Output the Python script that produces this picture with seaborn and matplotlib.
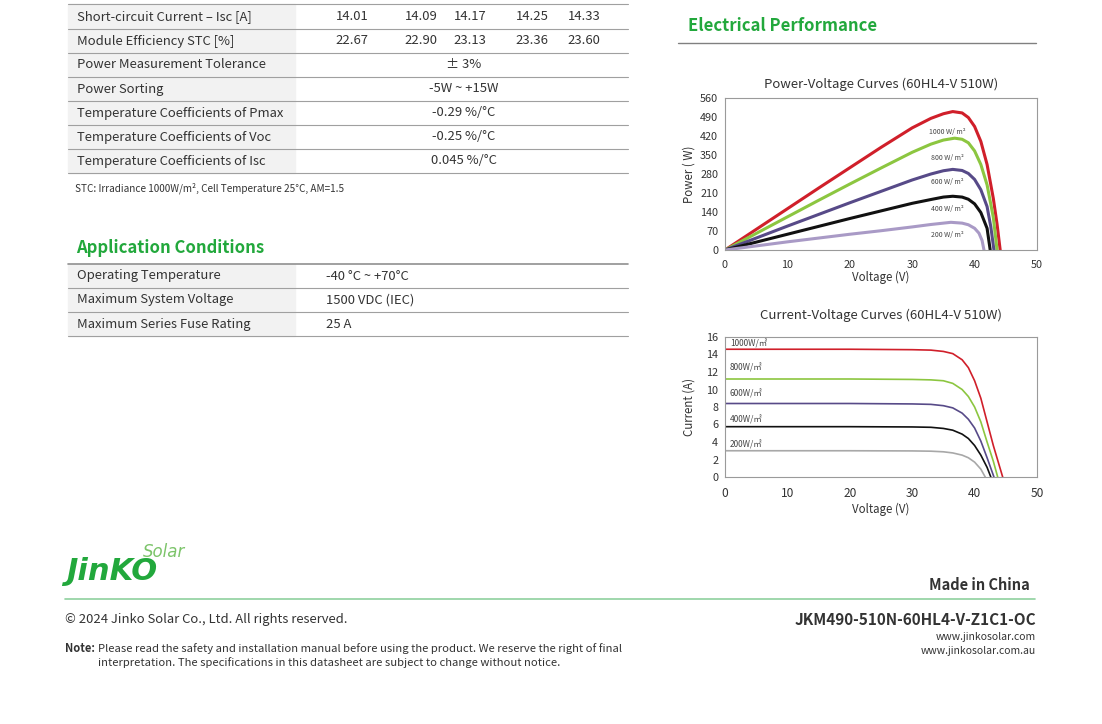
import numpy as np
import pandas as pd
import matplotlib.pyplot as plt
import seaborn as sns
from matplotlib.lines import Line2D
from matplotlib.patches import Rectangle

sns.set_style("white")
plt.rcParams['font.family'] = ['Noto Sans CJK SC', 'DejaVu Sans']

W, H = 1102, 724
GREEN = "#22a83c"
TXT = "#333333"

# ---- table data ----
elec_params = ["Short-circuit Current – Isc [A]", "Module Efficiency STC [%]"]
elec_values = [["14.01", "14.09", "14.17", "14.25", "14.33"],
               ["22.67", "22.90", "23.13", "23.36", "23.60"]]
merged_params = ["Power Measurement Tolerance", "Power Sorting",
                 "Temperature Coefficients of Pmax", "Temperature Coefficients of Voc",
                 "Temperature Coefficients of Isc"]
merged_values = ["± 3%", "-5W ~ +15W", "-0.29 %/°C", "-0.25 %/°C", "0.045 %/°C"]
app_params = ["Operating Temperature", "Maximum System Voltage", "Maximum Series Fuse Rating"]
app_values = ["-40 °C ~ +70°C", "1500 VDC (IEC)", "25 A"]

# ---- curve data ----
irr = ["1000", "800", "600", "400", "200"]
pv_v = {
    "1000": [0, 5, 10, 15, 20, 25, 30, 33, 35, 36.5, 38, 39, 40, 41, 42, 43, 43.6, 44.1],
    "800": [0, 5, 10, 15, 20, 25, 30, 33, 35, 36.8, 38, 39, 40, 41, 42, 43, 43.6],
    "600": [0, 5, 10, 15, 20, 25, 30, 33, 35, 36.5, 38, 39, 40, 41, 42, 42.6, 43.1],
    "400": [0, 5, 10, 15, 20, 25, 30, 33, 35, 36.5, 38, 39, 40, 41, 42, 42.5],
    "200": [0, 5, 10, 15, 20, 25, 30, 33, 35, 36.2, 38, 39, 40, 40.7, 41.2, 41.5],
}
pv_p = {
    "1000": [0, 76, 152, 228, 303, 378, 450, 485, 502, 510, 505, 488, 455, 400, 315, 190, 95, 0],
    "800": [0, 61, 122, 183, 243, 302, 360, 390, 405, 412, 408, 395, 365, 315, 240, 120, 0],
    "600": [0, 44, 88, 131, 174, 216, 258, 280, 292, 297, 293, 282, 260, 222, 160, 85, 0],
    "400": [0, 29, 58, 87, 116, 144, 172, 186, 195, 198, 195, 187, 170, 138, 80, 0],
    "200": [0, 15, 30, 44, 58, 71, 85, 94, 99, 102, 99, 93, 80, 62, 35, 0],
}
iv_v = {
    "1000": [0, 10, 20, 30, 33, 35, 36.5, 38, 39, 40, 41, 42, 43, 44, 44.5],
    "800": [0, 10, 20, 30, 33, 35, 36.5, 38, 39, 40, 41, 42, 43, 43.7],
    "600": [0, 10, 20, 30, 33, 35, 36.5, 38, 39, 40, 41, 42, 43.1],
    "400": [0, 10, 20, 30, 33, 35, 36.5, 38, 39, 40, 41, 42, 42.6],
    "200": [0, 10, 20, 30, 33, 35, 36.5, 38, 39, 40, 41, 41.7],
}
iv_i = {
    "1000": [14.6, 14.6, 14.6, 14.55, 14.5, 14.35, 14.1, 13.4, 12.5, 11.0, 9.0, 6.3, 3.6, 1.2, 0],
    "800": [11.2, 11.2, 11.2, 11.15, 11.1, 11.0, 10.7, 10.0, 9.2, 8.0, 6.3, 4.0, 1.8, 0],
    "600": [8.4, 8.4, 8.4, 8.35, 8.3, 8.15, 7.9, 7.3, 6.6, 5.6, 4.1, 2.2, 0],
    "400": [5.75, 5.75, 5.75, 5.72, 5.68, 5.55, 5.35, 4.9, 4.4, 3.6, 2.5, 1.1, 0],
    "200": [3.0, 3.0, 3.0, 2.98, 2.95, 2.88, 2.75, 2.5, 2.2, 1.7, 0.9, 0],
}
pv_colors = {"1000": "#d01f2a", "800": "#8cc640", "600": "#574a88", "400": "#111111", "200": "#a99ac6"}
iv_colors = {"1000": "#d01f2a", "800": "#8cc640", "600": "#574a88", "400": "#111111", "200": "#a8a8a8"}

fig = plt.figure(figsize=(W / 100, H / 100), dpi=100)


def fx(x):
    return x / W


def fy(y):
    return 1 - y / H


def txt(x, y, s, **kw):
    kw.setdefault("color", TXT)
    kw.setdefault("va", "center")
    fig.text(fx(x), fy(y), s, **kw)


def hline(x0, x1, y, color="#a0a0a0", lw=0.8):
    fig.add_artist(Line2D([fx(x0), fx(x1)], [fy(y), fy(y)], color=color, lw=lw,
                          transform=fig.transFigure))


def grey_box(x0, x1, y0, y1):
    fig.add_artist(Rectangle((fx(x0), fy(y1)), fx(x1) - fx(x0), fy(y0) - fy(y1),
                             color="#f2f2f2", transform=fig.transFigure, zorder=0))


# ---- main table ----
FS = 9.4
grey_box(68, 295, 4, 173)
row_h = 24
hline(68, 628, 4)
cols = [352, 421, 470, 532, 584]
y = 17
for name, vals in zip(elec_params, elec_values):
    txt(77, y, name, fontsize=FS)
    for cx, v in zip(cols, vals):
        txt(cx, y, v, fontsize=FS, ha="center")
    hline(68, 628, y + 12)
    y += row_h
for name, v in zip(merged_params, merged_values):
    txt(77, y, name, fontsize=FS)
    txt(464, y, v, fontsize=FS, ha="center")
    hline(68, 628, y + 12)
    y += row_h

txt(75, 188, "STC: Irradiance 1000W/m², Cell Temperature 25°C, AM=1.5", fontsize=7.2)

# ---- application conditions ----
txt(76, 248, "Application Conditions", fontsize=12, fontweight="bold", color=GREEN)
grey_box(68, 295, 264, 336)
hline(68, 628, 264, color="#909090", lw=1.2)
y = 276
for name, v in zip(app_params, app_values):
    txt(77, y, name, fontsize=FS)
    txt(326, y, v, fontsize=FS)
    hline(68, 628, y + 12)
    y += row_h

# ---- electrical performance ----
txt(688, 26, "Electrical Performance", fontsize=12, fontweight="bold", color=GREEN)
hline(678, 1036, 43, color="#808080", lw=1.0)

pv_df = pd.DataFrame([(k, v, p) for k in irr for v, p in zip(pv_v[k], pv_p[k])],
                     columns=["irr", "V", "P"])
iv_df = pd.DataFrame([(k, v, i) for k in irr for v, i in zip(iv_v[k], iv_i[k])],
                     columns=["irr", "V", "I"])


def style_axes(ax, xsize):
    for s in ax.spines.values():
        s.set_color("#9a9a9a")
        s.set_linewidth(0.8)
    ax.tick_params(axis="both", labelsize=7.8, colors="#9a9a9a", labelcolor=TXT,
                   length=3, width=0.7, pad=2)
    ax.tick_params(axis="x", labelsize=xsize, pad=4)
    ax.set_xlim(0, 50)
    ax.set_xticks([0, 10, 20, 30, 40, 50])
    ax.yaxis.set_label_coords(-0.095, 0.5)


ax_pv = fig.add_axes([fx(725), fy(250), fx(1037) - fx(725), fy(98) - fy(250)])
sns.lineplot(data=pv_df, x="V", y="P", hue="irr", palette=pv_colors, sort=False,
             estimator=None, linewidth=2.2, legend=False, ax=ax_pv)
style_axes(ax_pv, 7.8)
ax_pv.set_ylim(0, 560)
ax_pv.set_yticks(range(0, 561, 70))
ax_pv.set_title("Power-Voltage Curves (60HL4-V 510W)", fontsize=9.5, color=TXT, pad=7.5)
ax_pv.set_xlabel("Voltage (V)", fontsize=8.3, color=TXT, labelpad=1)
ax_pv.set_ylabel("Power ( W)", fontsize=8.3, color=TXT)
for k, py in zip(irr, [435, 339, 250, 151, 55]):
    ax_pv.text(35.6, py, k + " W/ m²", fontsize=5, color="#444444", ha="center", va="center")

ax_iv = fig.add_axes([fx(725), fy(477), fx(1037) - fx(725), fy(337) - fy(477)])
sns.lineplot(data=iv_df, x="V", y="I", hue="irr", palette=iv_colors, sort=False,
             estimator=None, linewidth=1.2, legend=False, ax=ax_iv)
style_axes(ax_iv, 8.6)
ax_iv.set_ylim(0, 16)
ax_iv.set_yticks(range(0, 17, 2))
ax_iv.set_title("Current-Voltage Curves (60HL4-V 510W)", fontsize=9.5, color=TXT, pad=13)
ax_iv.set_xlabel("Voltage (V)", fontsize=8.3, color=TXT, labelpad=2)
ax_iv.set_ylabel("Current (A)", fontsize=8.3, color=TXT)
for k, iy in zip(irr, [15.2, 12.5, 9.5, 6.5, 3.7]):
    ax_iv.text(0.8, iy, k + "W/㎡", fontsize=6, color="#444444", ha="left", va="center")

# ---- footer ----
fig.text(fx(66), fy(572), "JinKO", fontsize=22, fontweight="bold", style="italic",
         color=GREEN, family=["DejaVu Sans"], va="center")
fig.text(fx(143), fy(552), "Solar", fontsize=12, style="italic", color="#7cc46a",
         family=["DejaVu Sans"], va="center")
txt(1030, 585, "Made in China", fontsize=10.5, fontweight="bold", ha="right")
hline(65, 1035, 599, color="#8fd19e", lw=1.2)
txt(65, 619, "© 2024 Jinko Solar Co., Ltd. All rights reserved.", fontsize=9.4)
txt(1036, 620, "JKM490-510N-60HL4-V-Z1C1-OC", fontsize=11, fontweight="bold", ha="right")
txt(1036, 637, "www.jinkosolar.com", fontsize=7.5, ha="right")
txt(1036, 651, "www.jinkosolar.com.au", fontsize=7.5, ha="right")
txt(65, 649, "Note:", fontsize=8, fontweight="bold")
txt(98, 649, "Please read the safety and installation manual before using the product. "
    "We reserve the right of final", fontsize=8.1)
txt(98, 663, "interpretation. The specifications in this datasheet are subject to change "
    "without notice.", fontsize=8.1)

fig.savefig("out.png", dpi=100)
